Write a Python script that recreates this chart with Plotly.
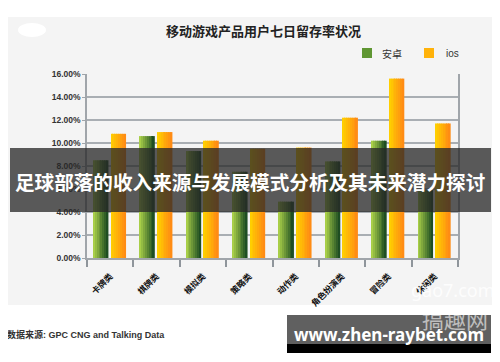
import plotly.graph_objects as go

categories = ["卡牌类", "棋牌类", "模拟类", "策略类", "动作类", "角色扮演类", "冒险类", "休闲类"]
android = [8.5, 10.6, 9.3, 7.5, 4.9, 8.4, 10.2, 5.9]
ios = [10.8, 10.95, 10.2, 9.5, 9.6, 12.2, 15.6, 11.7]
y_ticks = [0, 2, 4, 6, 8, 10, 12, 14, 16]
y_tick_text = ["0.00%", "2.00%", "4.00%", "6.00%", "8.00%", "10.00%", "12.00%", "14.00%", "16.00%"]

# page body has an 8px default margin: figure drawn at (8, 8)
OFF = 8
W, H = 500 - OFF, 362 - OFF
SX0, SX1, SYT, SYB = 87, 458, 74, 258  # plot area in screen pixels


def px(x):
    return (x - SX0) / (SX1 - SX0)


def py(y):
    return (SYB - y) / (SYB - SYT)


def lerp(c1, c2, t):
    return "rgb(%d,%d,%d)" % tuple(round(a + (b - a) * t) for a, b in zip(c1, c2))


fig = go.Figure()
N = 8
series = [
    (android, -0.36, 0.32, (168, 206, 72), (30, 78, 34)),
    (ios, 0.02, 0.32, (255, 206, 0), (255, 140, 20)),
]
for vals, off, wid, c1, c2 in series:
    for i in range(N):
        fig.add_trace(go.Bar(
            x=categories, y=vals,
            offset=off + i * wid / N, width=wid / N + 0.002,
            marker=dict(color=lerp(c1, c2, i / (N - 1)), line=dict(width=0)),
            showlegend=False, hoverinfo="skip",
        ))

shapes = [
    dict(type="rect", xref="paper", yref="paper", x0=px(8), x1=px(500), y0=py(305), y1=py(17),
         fillcolor="#f4f4f4", line=dict(width=0), layer="below"),
    dict(type="circle", xref="paper", yref="paper", x0=px(18), x1=px(46), y0=py(37), y1=py(23),
         fillcolor="white", line=dict(width=0), layer="below"),
    # legend swatches
    dict(type="rect", xref="paper", yref="paper", x0=px(362), x1=px(372), y0=py(58), y1=py(48),
         fillcolor="#5f9632", line=dict(width=0)),
    dict(type="rect", xref="paper", yref="paper", x0=px(424), x1=px(434), y0=py(58), y1=py(48),
         fillcolor="#ffb20a", line=dict(width=0)),
    # banner
    dict(type="rect", xref="paper", yref="paper", x0=px(10), x1=px(491), y0=py(212), y1=py(148),
         fillcolor="rgba(40,40,40,0.76)", line=dict(width=0), layer="above"),
    # bottom box
    dict(type="rect", xref="paper", yref="paper", x0=px(287), x1=px(491), y0=py(344), y1=py(315),
         fillcolor="#606060", line=dict(width=0), layer="above"),
    dict(type="rect", xref="paper", yref="paper", x0=px(287), x1=px(491), y0=py(353), y1=py(344),
         fillcolor="#000000", line=dict(width=0), layer="above"),
]


def ann(text, x, y, size, family, color, weight="normal", xanchor="center"):
    return dict(text=text, x=px(x), y=py(y), xref="paper", yref="paper",
                xanchor=xanchor, yanchor="middle", showarrow=False,
                font=dict(family=family, size=size, color=color, weight=weight))


annotations = [
    ann("移动游戏产品用户七日留存率状况", 263, 30, 13, "Noto Sans CJK SC", "#222", "bold"),
    ann("安卓", 380, 53, 10, "Noto Sans CJK SC", "#333", xanchor="left"),
    ann("ios", 444, 53, 10, "Liberation Sans", "#333", xanchor="left"),
    ann("数据来源: GPC CNG and Talking Data", 5, 334, 9, "Liberation Sans, Noto Sans CJK SC", "#333",
        "bold", xanchor="left"),
    ann("gao7.com", 453, 290, 18, "Noto Sans", "rgba(255,255,255,0.85)"),
    ann("搞趣网", 455, 318, 22, "Noto Sans CJK SC", "rgba(255,255,255,0.6)"),
    ann("足球部落的收入来源与发展模式分析及其未来潜力探讨", 250, 181, 19.6, "Noto Sans CJK SC", "white", "bold"),
    ann("www.zhen-raybet.com", 389, 334, 17, "Noto Sans", "white", "bold"),
]

fig.update_layout(
    width=W, height=H,
    margin=dict(l=SX0 - OFF, r=500 - SX1, t=SYT - OFF, b=362 - SYB, autoexpand=False),
    paper_bgcolor="white", plot_bgcolor="rgba(0,0,0,0)",
    barmode="overlay", showlegend=False,
    shapes=shapes, annotations=annotations,
    xaxis=dict(
        type="category", tickson="boundaries", ticks="outside", ticklen=7, tickwidth=2,
        tickcolor="#8f959b", showline=True, linecolor="#a0a5aa", linewidth=2,
        showgrid=False, tickangle=-45, ticklabelstandoff=8,
        tickfont=dict(family="Noto Sans CJK SC", size=8.5, color="#111", weight="bold"),
    ),
    yaxis=dict(
        range=[0, 16], tickvals=y_ticks, ticktext=y_tick_text,
        showgrid=True, gridcolor="#a9aeb3", gridwidth=1.5,
        showline=True, linecolor="#a0a5aa", linewidth=1.5, mirror=True,
        ticks="outside", ticklen=3, tickcolor="#a0a5aa",
        zeroline=False,
        tickfont=dict(family="Liberation Sans", size=8.5, color="#333", weight="bold"),
    ),
)

fig.write_html("out.html")
